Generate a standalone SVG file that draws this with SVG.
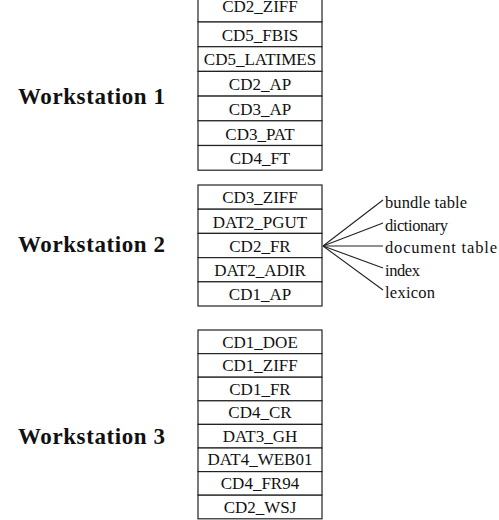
<svg xmlns="http://www.w3.org/2000/svg" width="499" height="520" viewBox="0 0 499 520">
<style>
.bg{fill:#fff}
.cell{fill:#fff;stroke:#222;stroke-width:1.2}
.t{font-family:"Liberation Serif","Times New Roman",serif;font-size:17px;fill:#111;text-anchor:middle}
.ws{font-family:"Liberation Serif","Times New Roman",serif;font-size:23px;font-weight:bold;fill:#111}
.lbl{font-family:"Liberation Serif","Times New Roman",serif;font-size:16.5px;fill:#111}
.fan line{stroke:#222;stroke-width:1.1}
</style>
<rect class="bg" x="0" y="0" width="499" height="520"/>
<g id="ws1">
<text class="ws" x="18" y="104" textLength="147">Workstation 1</text>
<rect class="cell" x="198" y="-2.7" width="124" height="24.7"/><text class="t" x="260" y="12">CD2_ZIFF</text>
<rect class="cell" x="198" y="22" width="124" height="24.7"/><text class="t" x="260" y="40.5">CD5_FBIS</text>
<rect class="cell" x="198" y="46.7" width="124" height="24.7"/><text class="t" x="260" y="65">CD5_LATIMES</text>
<rect class="cell" x="198" y="71.4" width="124" height="24.7"/><text class="t" x="260" y="90">CD2_AP</text>
<rect class="cell" x="198" y="96.1" width="124" height="24.7"/><text class="t" x="260" y="114.5">CD3_AP</text>
<rect class="cell" x="198" y="120.8" width="124" height="24.7"/><text class="t" x="260" y="139.5">CD3_PAT</text>
<rect class="cell" x="198" y="145.5" width="124" height="24.7"/><text class="t" x="260" y="164">CD4_FT</text>
</g>
<g id="ws2">
<text class="ws" x="18" y="252" textLength="147">Workstation 2</text>
<rect class="cell" x="198" y="185" width="124" height="24.2"/><text class="t" x="260" y="203">CD3_ZIFF</text>
<rect class="cell" x="198" y="209.2" width="124" height="24.2"/><text class="t" x="260" y="227.5">DAT2_PGUT</text>
<rect class="cell" x="198" y="233.4" width="124" height="24.2"/><text class="t" x="260" y="251.5">CD2_FR</text>
<rect class="cell" x="198" y="257.6" width="124" height="24.2"/><text class="t" x="260" y="275.5">DAT2_ADIR</text>
<rect class="cell" x="198" y="281.8" width="124" height="24.2"/><text class="t" x="260" y="300">CD1_AP</text>
</g>
<g id="ws3">
<text class="ws" x="18" y="444" textLength="147">Workstation 3</text>
<rect class="cell" x="198" y="330" width="124" height="23.6"/><text class="t" x="260" y="347.5">CD1_DOE</text>
<rect class="cell" x="198" y="353.6" width="124" height="23.6"/><text class="t" x="260" y="371">CD1_ZIFF</text>
<rect class="cell" x="198" y="377.2" width="124" height="23.6"/><text class="t" x="260" y="394.5">CD1_FR</text>
<rect class="cell" x="198" y="400.8" width="124" height="23.6"/><text class="t" x="260" y="418">CD4_CR</text>
<rect class="cell" x="198" y="424.4" width="124" height="23.6"/><text class="t" x="260" y="441.5">DAT3_GH</text>
<rect class="cell" x="198" y="448" width="124" height="23.6"/><text class="t" x="260" y="465">DAT4_WEB01</text>
<rect class="cell" x="198" y="471.6" width="124" height="23.6"/><text class="t" x="260" y="489">CD4_FR94</text>
<rect class="cell" x="198" y="495.2" width="124" height="23.6"/><text class="t" x="260" y="512.5">CD2_WSJ</text>
</g>
<g id="connectors" class="fan">
<line x1="323" y1="246" x2="383" y2="200"/>
<line x1="323" y1="246" x2="383" y2="223"/>
<line x1="323" y1="246" x2="383" y2="246"/>
<line x1="323" y1="246" x2="383" y2="268"/>
<line x1="323" y1="246" x2="383" y2="290"/>
</g>
<g id="labels">
<text class="lbl" x="385" y="207.5" textLength="82">bundle table</text>
<text class="lbl" x="385" y="230.5" textLength="63">dictionary</text>
<text class="lbl" x="385" y="253" textLength="112">document table</text>
<text class="lbl" x="385" y="275.5" textLength="35">index</text>
<text class="lbl" x="385" y="297.5" textLength="50">lexicon</text>
</g>
</svg>
